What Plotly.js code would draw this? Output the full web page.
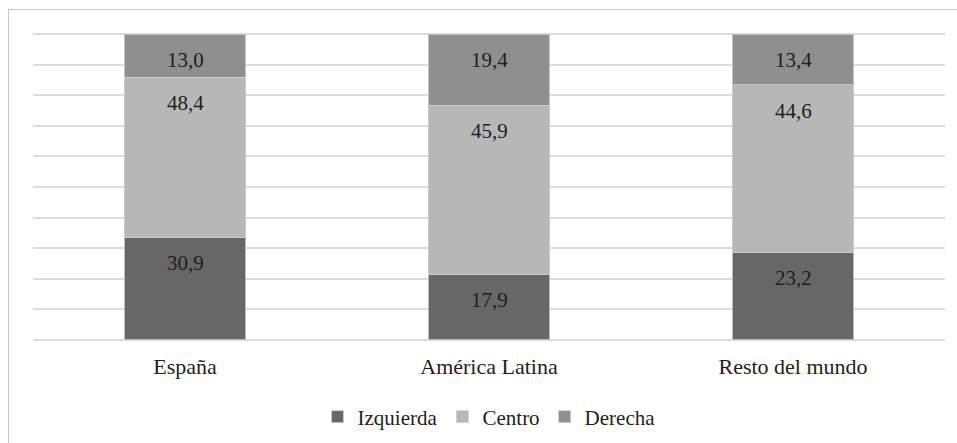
<!DOCTYPE html>
<html>
<head>
<meta charset="utf-8">
<script src="https://cdn.plot.ly/plotly-3.0.1.min.js"></script>
<style>
  html, body { margin: 0; padding: 0; background: #fff; }
  #wrap { position: relative; width: 957px; height: 443px; overflow: hidden; }
  #chart { position: absolute; left: 0; top: 0; width: 957px; height: 443px; }
  #chart text { font-family: serif !important; }
  #frame { position: absolute; left: 8px; top: 9px; width: 960px; height: 440px;
           border-left: 1.5px solid #c8c8c8; border-top: 1.5px solid #c8c8c8; pointer-events: none; }
</style>
</head>
<body>
<div id="wrap">
  <div id="chart"></div>
  <div id="frame"></div>
</div>
<script>
const categories = ["España", "América Latina", "Resto del mundo"];
const izquierda = [30.9, 17.9, 23.2];
const centro = [48.4, 45.9, 44.6];
const derecha = [13.0, 19.4, 13.4];
const seriesNames = ["Izquierda", "Centro", "Derecha"];
const seriesColors = ["#676767", "#b7b7b7", "#8f8f8f"];

const series = [izquierda, centro, derecha];
const FONT = 'serif';
const fmt = v => v.toFixed(1).replace('.', ',');

const traces = series.map((vals, i) => ({
  type: 'bar',
  name: seriesNames[i],
  x: categories,
  y: vals,
  marker: { color: seriesColors[i], line: { color: '#d0d0d0', width: 0.8 } },
  hoverinfo: 'skip'
}));

// label annotations near the top of each normalised segment
const annotations = [];
categories.forEach((c, j) => {
  const total = series.reduce((s, arr) => s + arr[j], 0);
  let cum = 0;
  series.forEach((arr, i) => {
    cum += arr[j] / total * 100;
    annotations.push({
      x: c, y: Math.min(cum, 100), xref: 'x', yref: 'y',
      text: fmt(arr[j]), showarrow: false,
      yanchor: 'middle', yshift: -26,
      font: { family: FONT, size: 21, color: '#1e1e1e' }
    });
  });
});

const layout = {
  width: 957, height: 443,
  font: { family: FONT },
  margin: { l: 33, r: 12, t: 33, b: 102, autoexpand: false },
  barmode: 'stack',
  barnorm: 'percent',
  bargap: 0.6,
  paper_bgcolor: '#ffffff',
  plot_bgcolor: '#ffffff',
  showlegend: true,
  legend: {
    orientation: 'h', x: 0.5, xanchor: 'center',
    yref: 'container', y: 0.105, yanchor: 'top',
    font: { family: FONT, size: 21, color: '#1e1e1e' },
    itemwidth: 30, traceorder: 'normal'
  },
  xaxis: {
    type: 'category', automargin: false,
    showgrid: false, showline: false, zeroline: false,
    ticks: 'outside', ticklen: 6, tickcolor: 'rgba(0,0,0,0)',
    tickfont: { family: FONT, size: 22, color: '#1e1e1e' }
  },
  yaxis: {
    range: [-0.4, 100.4], dtick: 10, tick0: 0, automargin: false,
    showticklabels: false, ticks: '',
    showgrid: true, gridcolor: '#dcdcdc', gridwidth: 2,
    zeroline: false, showline: false
  },
  annotations: annotations
};

Plotly.newPlot('chart', traces, layout, { displayModeBar: false });
</script>
</body>
</html>
